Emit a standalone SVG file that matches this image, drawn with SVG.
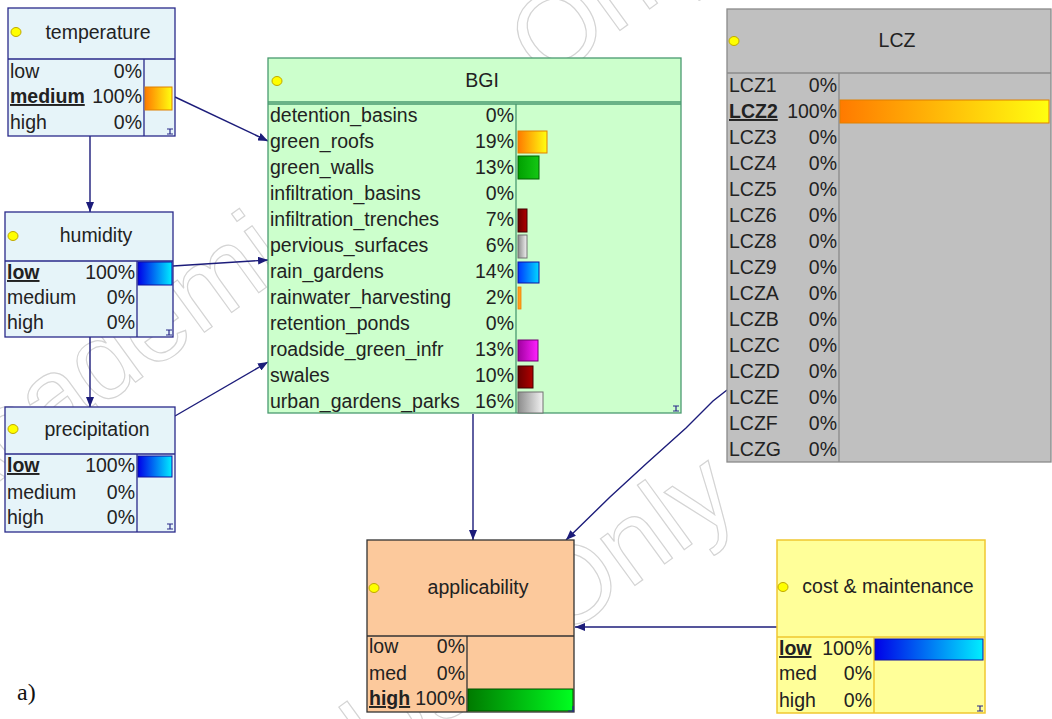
<svg xmlns="http://www.w3.org/2000/svg" width="1052" height="719" viewBox="0 0 1052 719">
<style>
text{font-family:"Liberation Sans",Arial,sans-serif;font-size:19.5px;fill:#222}
.hd{text-anchor:middle}
.pc{text-anchor:end}
.b{font-weight:bold;text-decoration:underline}
.wm{font-family:"Liberation Sans",Arial,sans-serif;font-size:110px;fill:none;stroke:#d4d4d4;stroke-width:1.2}
.blue{fill:#e6f4f9;stroke:#2a2a8a;stroke-width:1.3}
.bl{stroke:#2a2a8a;stroke-width:1.3;fill:none}
.dot{fill:#ffff00;stroke:#c0a800;stroke-width:1}
.cn{stroke:#1c1c7a;stroke-width:1.4;fill:none;marker-end:url(#ah)}
.ic{stroke:#2a2a8a;stroke-width:1.2;fill:none}
</style>
<defs>
<marker id="ah" markerWidth="10" markerHeight="8" refX="10" refY="4" orient="auto" markerUnits="userSpaceOnUse"><path d="M0,0 L10,4 L0,8 z" fill="#1c1c7a"/></marker>
<linearGradient id="gOr" x1="0" x2="1" y1="0" y2="0"><stop offset="0" stop-color="#ff7a00"/><stop offset="1" stop-color="#ffff10"/></linearGradient>
<linearGradient id="gBl" x1="0" x2="1" y1="0" y2="0"><stop offset="0" stop-color="#0000e8"/><stop offset="1" stop-color="#00eeff"/></linearGradient>
<linearGradient id="gBl2" x1="0" x2="1" y1="0" y2="0"><stop offset="0" stop-color="#0038ff"/><stop offset="1" stop-color="#00d8ff"/></linearGradient>
<linearGradient id="gGr" x1="0" x2="1" y1="0" y2="0"><stop offset="0" stop-color="#00a000"/><stop offset="1" stop-color="#14c814"/></linearGradient>
<linearGradient id="gRd" x1="0" x2="1" y1="0" y2="0"><stop offset="0" stop-color="#6a0000"/><stop offset="1" stop-color="#b00000"/></linearGradient>
<linearGradient id="gGy" x1="0" x2="1" y1="0" y2="0"><stop offset="0" stop-color="#8c8c8c"/><stop offset="1" stop-color="#f2f2f2"/></linearGradient>
<linearGradient id="gMg" x1="0" x2="1" y1="0" y2="0"><stop offset="0" stop-color="#a000a0"/><stop offset="1" stop-color="#ff20ff"/></linearGradient>
<linearGradient id="gAp" x1="0" x2="1" y1="0" y2="0"><stop offset="0" stop-color="#007a00"/><stop offset="1" stop-color="#00ff20"/></linearGradient>
</defs>
<rect x="0" y="0" width="1052" height="719" fill="#ffffff"/>
<g id="watermark">
<text class="wm" transform="translate(-54,520) rotate(-36)">Academic Use Only</text>
<text class="wm" transform="translate(-39,1075) rotate(-36)">Academic Use Only</text>
</g>
<g id="connectors">
<path class="cn" d="M175,97 L268,141"/>
<path class="cn" d="M90,136 L90,212"/>
<path class="cn" d="M173,266 L268,260"/>
<path class="cn" d="M90,337 L90,407"/>
<path class="cn" d="M175,416 L268,362"/>
<path class="cn" d="M473,414 L473,540"/>
<path class="cn" d="M727,390 L713,401 L686,428 L647,463 L610,497 L566,540"/>
<path class="cn" d="M777,627 L575,627"/>
</g>
<g id="temperature">
<rect class="blue" x="8" y="8" width="167" height="128"/>
<path class="bl" d="M8,59 H175 M144,59 V136"/>
<ellipse class="dot" cx="16" cy="32" rx="5" ry="4.5"/>
<text class="hd" x="98" y="39">temperature</text>
<text x="10" y="78">low</text><text class="pc" x="142" y="78">0%</text>
<text class="b" x="10" y="103">medium</text><text class="pc" x="142" y="103">100%</text>
<text x="10" y="129">high</text><text class="pc" x="142" y="129">0%</text>
<rect x="145" y="87" width="27" height="23" fill="url(#gOr)" stroke="#e08000"/>
<path class="ic" d="M167,129 h6 M170,129 v5 M167,134 h6"/>
</g>
<g id="humidity">
<rect class="blue" x="5" y="212" width="168" height="125"/>
<path class="bl" d="M5,261 H173 M137,261 V337"/>
<ellipse class="dot" cx="13" cy="236" rx="5" ry="4.5"/>
<text class="hd" x="96" y="242">humidity</text>
<text class="b" x="7" y="279">low</text><text class="pc" x="135" y="279">100%</text>
<text x="7" y="304">medium</text><text class="pc" x="135" y="304">0%</text>
<text x="7" y="329">high</text><text class="pc" x="135" y="329">0%</text>
<rect x="138" y="262" width="34" height="23" fill="url(#gBl)" stroke="#1010a0"/>
<path class="ic" d="M166,330 h6 M169,330 v5 M166,335 h6"/>
</g>
<g id="precipitation">
<rect class="blue" x="5" y="407" width="170" height="125"/>
<path class="bl" d="M5,454 H175 M137,454 V532"/>
<ellipse class="dot" cx="13" cy="429" rx="5" ry="4.5"/>
<text class="hd" x="97" y="436">precipitation</text>
<text class="b" x="7" y="472">low</text><text class="pc" x="135" y="472">100%</text>
<text x="7" y="499">medium</text><text class="pc" x="135" y="499">0%</text>
<text x="7" y="524">high</text><text class="pc" x="135" y="524">0%</text>
<rect x="138" y="456" width="34" height="21" fill="url(#gBl)" stroke="#1010a0"/>
<path class="ic" d="M167,524 h6 M170,524 v5 M167,529 h6"/>
</g>
<g id="BGI">
<rect x="268" y="58" width="413" height="355" fill="#ccffcc" stroke="#4a9a70" stroke-width="1.3"/>
<path d="M268,102 H681 M268,104 H681 M516,104 V413" stroke="#4a9a70" stroke-width="1.3" fill="none"/>
<ellipse class="dot" cx="277" cy="81" rx="5" ry="4.5"/>
<text class="hd" x="482" y="87">BGI</text>
<text x="270" y="122">detention_basins</text><text class="pc" x="514" y="122">0%</text>
<text x="270" y="148">green_roofs</text><text class="pc" x="514" y="148">19%</text>
<text x="270" y="174">green_walls</text><text class="pc" x="514" y="174">13%</text>
<text x="270" y="200">infiltration_basins</text><text class="pc" x="514" y="200">0%</text>
<text x="270" y="226">infiltration_trenches</text><text class="pc" x="514" y="226">7%</text>
<text x="270" y="252">pervious_surfaces</text><text class="pc" x="514" y="252">6%</text>
<text x="270" y="278">rain_gardens</text><text class="pc" x="514" y="278">14%</text>
<text x="270" y="304">rainwater_harvesting</text><text class="pc" x="514" y="304">2%</text>
<text x="270" y="330">retention_ponds</text><text class="pc" x="514" y="330">0%</text>
<text x="270" y="356">roadside_green_infr</text><text class="pc" x="514" y="356">13%</text>
<text x="270" y="382">swales</text><text class="pc" x="514" y="382">10%</text>
<text x="270" y="408">urban_gardens_parks</text><text class="pc" x="514" y="408">16%</text>
<rect x="518" y="131" width="29" height="22" fill="url(#gOr)" stroke="#e08000"/>
<rect x="518" y="156" width="21" height="23" fill="url(#gGr)" stroke="#006000"/>
<rect x="518" y="209" width="9" height="23" fill="url(#gRd)" stroke="#400000"/>
<rect x="518" y="235" width="9" height="23" fill="url(#gGy)" stroke="#707070"/>
<rect x="518" y="262" width="21" height="21" fill="url(#gBl2)" stroke="#1010a0"/>
<rect x="518" y="287" width="3" height="22" fill="#ffa020" stroke="#f08000" stroke-width="0.8"/>
<rect x="518" y="340" width="20" height="21" fill="url(#gMg)" stroke="#700070"/>
<rect x="518" y="366" width="15" height="22" fill="url(#gRd)" stroke="#400000"/>
<rect x="518" y="392" width="25" height="21" fill="url(#gGy)" stroke="#707070"/>
<path class="ic" d="M673,406 h6 M676,406 v5 M673,411 h6"/>
</g>
<g id="LCZ">
<rect x="727" y="9" width="324" height="453" fill="#c0c0c0" stroke="#8a8a8a" stroke-width="1.3"/>
<path d="M727,73 H1051 M839,73 V462" stroke="#8a8a8a" stroke-width="1.3" fill="none"/>
<ellipse class="dot" cx="734" cy="41" rx="5" ry="4.5"/>
<text class="hd" x="897" y="47">LCZ</text>
<text x="729" y="92">LCZ1</text><text class="pc" x="837" y="92">0%</text>
<text class="b" x="729" y="118">LCZ2</text><text class="pc" x="837" y="118">100%</text>
<text x="729" y="144">LCZ3</text><text class="pc" x="837" y="144">0%</text>
<text x="729" y="170">LCZ4</text><text class="pc" x="837" y="170">0%</text>
<text x="729" y="196">LCZ5</text><text class="pc" x="837" y="196">0%</text>
<text x="729" y="222">LCZ6</text><text class="pc" x="837" y="222">0%</text>
<text x="729" y="248">LCZ8</text><text class="pc" x="837" y="248">0%</text>
<text x="729" y="274">LCZ9</text><text class="pc" x="837" y="274">0%</text>
<text x="729" y="300">LCZA</text><text class="pc" x="837" y="300">0%</text>
<text x="729" y="326">LCZB</text><text class="pc" x="837" y="326">0%</text>
<text x="729" y="352">LCZC</text><text class="pc" x="837" y="352">0%</text>
<text x="729" y="378">LCZD</text><text class="pc" x="837" y="378">0%</text>
<text x="729" y="404">LCZE</text><text class="pc" x="837" y="404">0%</text>
<text x="729" y="430">LCZF</text><text class="pc" x="837" y="430">0%</text>
<text x="729" y="456">LCZG</text><text class="pc" x="837" y="456">0%</text>
<rect x="840" y="100" width="209" height="23" fill="url(#gOr)" stroke="#e08000"/>
</g>
<g id="applicability">
<rect x="367" y="540" width="207" height="172" fill="#fcc99c" stroke="#333333" stroke-width="1.3"/>
<path d="M367,636 H574 M467,636 V712" stroke="#333333" stroke-width="1.3" fill="none"/>
<ellipse class="dot" cx="374" cy="588" rx="5" ry="4.5"/>
<text class="hd" x="478" y="594">applicability</text>
<text x="369" y="653">low</text><text class="pc" x="465" y="653">0%</text>
<text x="369" y="680">med</text><text class="pc" x="465" y="680">0%</text>
<text class="b" x="369" y="705">high</text><text class="pc" x="465" y="705">100%</text>
<rect x="468" y="689" width="105" height="22" fill="url(#gAp)" stroke="#005000"/>
<path class="ic" d="M568,711 h6 M573,706 v6"/>
</g>
<g id="cost_maintenance">
<rect x="777" y="540" width="208" height="173" fill="#ffff99" stroke="#f0c830" stroke-width="1.5"/>
<path d="M777,637 H985 M874,637 V713" stroke="#f0c830" stroke-width="1.5" fill="none"/>
<ellipse class="dot" cx="783" cy="587" rx="5" ry="4.5"/>
<text class="hd" x="888" y="593">cost &amp; maintenance</text>
<text class="b" x="779" y="655">low</text><text class="pc" x="872" y="655">100%</text>
<text x="779" y="680">med</text><text class="pc" x="872" y="680">0%</text>
<text x="779" y="707">high</text><text class="pc" x="872" y="707">0%</text>
<rect x="875" y="639" width="108" height="21" fill="url(#gBl)" stroke="#1010a0"/>
<path class="ic" d="M977,706 h6 M980,706 v5 M977,711 h6"/>
</g>
<text x="17" y="700" style="font-family:'Liberation Serif','Times New Roman',serif;font-size:24px;fill:#111">a)</text>
</svg>
